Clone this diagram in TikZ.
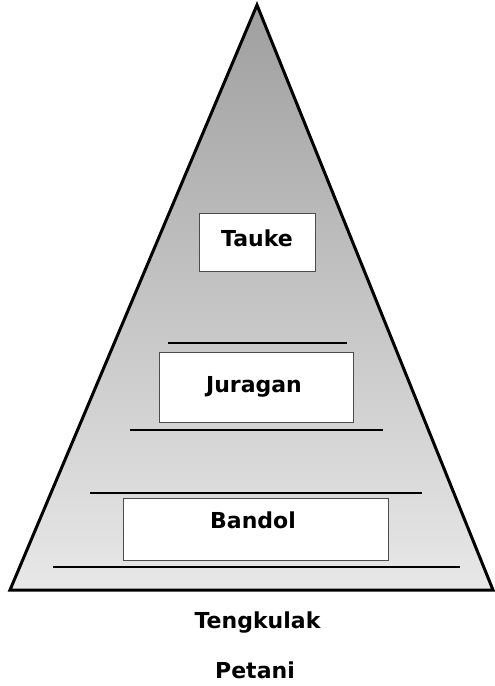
\documentclass[tikz,border=0pt]{standalone}
\usepackage{fontspec}
\setmainfont{DejaVu Sans}
\usetikzlibrary{positioning}
\tikzset{
  pyramid/.style={line width=3pt, line join=miter, top color=gray!75, bottom color=gray!18},
  layerbox/.style={draw=black!70, fill=white, line width=0.8pt, inner sep=0pt},
  layertext/.style={font=\fontsize{22}{26}\selectfont\bfseries, anchor=base, inner sep=0pt},
  tierline/.style={line width=2.2pt},
}

\begin{document}
\begin{tikzpicture}[x=1pt, y=1pt]
  \useasboundingbox (0,0) rectangle (495,-686);
  % pyramid body
  \draw[pyramid] (257,-5) -- (493,-590) -- (10,-590) -- cycle;
  % tier lines
  \draw[tierline] (168,-343) -- (347,-343);
  \draw[tierline] (130,-430) -- (383,-430);
  \draw[tierline] (90,-493) -- (422,-493);
  \draw[tierline] (53,-567) -- (460,-567);
  % boxes
  \node[layerbox, minimum width=116pt, minimum height=58pt] (tauke) at (257,-242) {};
  \node[layerbox, minimum width=194pt, minimum height=70pt] (juragan) at (256,-387) {};
  \node[layerbox, minimum width=265pt, minimum height=62pt] (bandol) at (255.5,-529) {};
  % labels
  \node[layertext] (taukelbl) at (257,-246) {Tauke};
  \node[layertext] (juraganlbl) at (254,-392) {Juragan};
  \node[layertext] (bandollbl) at (253,-528) {Bandol};
  \node[layertext] (tengkulaklbl) at (257.5,-628) {Tengkulak};
  \node[layertext] (petanilbl) at (255,-678) {Petani};
\end{tikzpicture}
\end{document}
